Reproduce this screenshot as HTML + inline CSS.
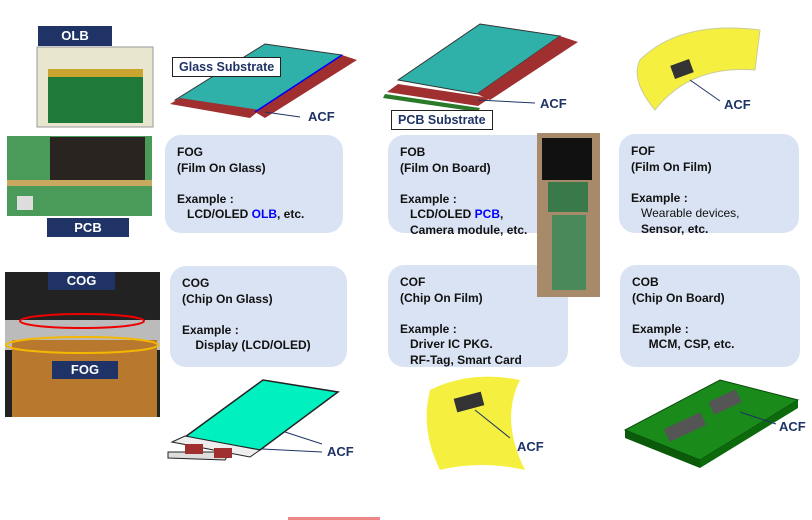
<!DOCTYPE html>
<html><head><meta charset="utf-8"><style>
body{margin:0;width:812px;height:520px;background:#fff;position:relative;overflow:hidden;font-family:"Liberation Sans",sans-serif}
.box{position:absolute;background:#dae3f3;border-radius:16px;font-weight:bold;font-size:12px;line-height:15.5px;color:#111;padding:10px 12px;box-sizing:border-box;white-space:nowrap}
.lab{position:absolute;background:#1f3366;color:#fff;font-weight:bold;font-size:13px;text-align:center}
.tag{position:absolute;background:#fff;border:1.5px solid #222;font-weight:bold;font-size:12.5px;color:#1f3366;padding:2px 6px}
.acf{position:absolute;font-weight:bold;font-size:13px;color:#1f3366}
svg{position:absolute;left:0;top:0}
</style></head><body>
<svg width="812" height="520">
<rect x="37" y="47" width="116" height="80" fill="#e8e6cf" stroke="#999"/>
<rect x="48" y="69" width="95" height="54" fill="#1f7a3a"/>
<rect x="48" y="69" width="95" height="8" fill="#c9a530"/>
<rect x="7" y="136" width="145" height="80" fill="#4a9a5a"/>
<rect x="50" y="137" width="95" height="46" fill="#2a2420"/>
<rect x="7" y="180" width="145" height="6" fill="#c9a860"/>
<rect x="17" y="196" width="16" height="14" fill="#ddd"/>
<rect x="5" y="272" width="155" height="145" fill="#222"/>
<rect x="5" y="320" width="155" height="30" fill="#bbb"/>
<rect x="12" y="340" width="145" height="77" fill="#b8782e"/>
<ellipse cx="82" cy="321" rx="62" ry="7" fill="none" stroke="#e00" stroke-width="2"/>
<ellipse cx="82" cy="345" rx="76" ry="8" fill="none" stroke="#f5b800" stroke-width="2"/>
<polygon points="175,100 265,44 342,55 255,112" fill="#2fb0a8" stroke="#333"/>
<polygon points="170,104 180,98 260,110 250,118" fill="#a03030"/>
<polygon points="255,112 342,55 357,60 265,118" fill="#a03030"/>
<line x1="255" y1="112" x2="342" y2="55" stroke="#00f" stroke-width="1.5"/>
<line x1="265" y1="112" x2="300" y2="117" stroke="#1f3366"/>
<polygon points="398,80 480,24 560,36 477,94" fill="#2fb0a8" stroke="#333"/>
<polygon points="387,92 398,84 490,98 478,106" fill="#a03030"/>
<polygon points="477,94 560,36 578,42 490,100" fill="#a03030"/>
<polygon points="385,94 480,108 478,112 383,98" fill="#2a7a2a"/>
<line x1="478" y1="100" x2="535" y2="103" stroke="#1f3366"/>
<path d="M640,60 Q680,20 760,30 L755,70 Q690,65 655,110 Q630,80 640,60Z" fill="#f5f040" stroke="#cc9"/>
<rect x="672" y="62" width="20" height="14" fill="#333" transform="rotate(-20 682 69)"/>
<line x1="690" y1="80" x2="720" y2="101" stroke="#1f3366"/>
<polygon points="185,437 263,380 338,392 260,450" fill="#00f0c0" stroke="#222" stroke-width="1.5"/>
<polygon points="172,442 185,436 260,450 250,457" fill="#eee" stroke="#222"/>
<polygon points="168,452 230,452 225,460 168,458" fill="#ddd" stroke="#222"/>
<rect x="185" y="444" width="18" height="10" fill="#a03030"/>
<rect x="214" y="448" width="18" height="10" fill="#a03030"/>
<line x1="285" y1="432" x2="322" y2="444" stroke="#1f3366"/>
<line x1="262" y1="449" x2="322" y2="452" stroke="#1f3366"/>
<path d="M430,390 Q470,370 520,380 Q500,420 525,470 Q480,460 440,470 Q420,430 430,390Z" fill="#f5f040"/>
<rect x="455" y="395" width="28" height="14" fill="#333" transform="rotate(-15 469 402)"/>
<line x1="475" y1="410" x2="510" y2="438" stroke="#1f3366"/>
<polygon points="625,430 720,380 798,400 700,460" fill="#1a8a1a" stroke="#0a4a0a"/>
<polygon points="625,430 700,460 700,468 625,438" fill="#0a5a0a"/>
<polygon points="700,460 798,400 798,408 700,468" fill="#0c6a0c"/>
<rect x="710" y="395" width="30" height="14" fill="#555" transform="rotate(-25 725 402)"/>
<rect x="665" y="420" width="40" height="14" fill="#555" transform="rotate(-25 685 427)"/>
<line x1="740" y1="412" x2="776" y2="424" stroke="#1f3366"/>
<rect x="288" y="517" width="92" height="3" fill="#e88"/>
</svg>
<div class="lab" style="left:38px;top:26px;width:74px;height:20px;line-height:20px">OLB</div>
<div class="lab" style="left:47px;top:218px;width:82px;height:19px;line-height:19px">PCB</div>
<div class="lab" style="left:48px;top:272px;width:67px;height:18px;line-height:18px">COG</div>
<div class="lab" style="left:52px;top:361px;width:66px;height:18px;line-height:18px">FOG</div>
<div class="tag" style="left:172px;top:57px">Glass Substrate</div>
<div class="tag" style="left:391px;top:110px">PCB Substrate</div>
<div class="acf" style="left:308px;top:109px">ACF</div>
<div class="acf" style="left:540px;top:96px">ACF</div>
<div class="acf" style="left:724px;top:97px">ACF</div>
<div class="acf" style="left:327px;top:444px">ACF</div>
<div class="acf" style="left:517px;top:439px">ACF</div>
<div class="acf" style="left:779px;top:419px">ACF</div>
<div class="box" style="left:165px;top:135px;width:178px;height:98px">FOG<br>(Film On Glass)<br><br>Example :<br>&nbsp;&nbsp;&nbsp;LCD/OLED <span style="color:#00f">OLB</span>, etc.</div>
<div class="box" style="left:388px;top:135px;width:150px;height:98px;border-radius:16px 0 0 16px">FOB<br>(Film On Board)<br><br>Example :<br>&nbsp;&nbsp;&nbsp;LCD/OLED <span style="color:#00f">PCB</span>,<br>&nbsp;&nbsp;&nbsp;Camera module, etc.</div>
<div class="box" style="left:619px;top:134px;width:180px;height:99px">FOF<br>(Film On Film)<br><br>Example :<br><span style="font-weight:normal">&nbsp;&nbsp;&nbsp;Wearable devices,</span><br>&nbsp;&nbsp;&nbsp;Sensor, etc.</div>
<div class="box" style="left:170px;top:266px;width:177px;height:101px">COG<br>(Chip On Glass)<br><br>Example :<br>&nbsp;&nbsp;&nbsp;&nbsp;Display (LCD/OLED)</div>
<div class="box" style="left:388px;top:265px;width:180px;height:102px">COF<br>(Chip On Film)<br><br>Example :<br>&nbsp;&nbsp;&nbsp;Driver IC PKG.<br>&nbsp;&nbsp;&nbsp;RF-Tag, Smart Card</div>
<div class="box" style="left:620px;top:265px;width:180px;height:102px">COB<br>(Chip On Board)<br><br>Example :<br>&nbsp;&nbsp;&nbsp;&nbsp;&nbsp;MCM, CSP, etc.</div>
<svg width="812" height="520" style="pointer-events:none">
<rect x="537" y="133" width="63" height="164" fill="#a68a6a"/>
<rect x="542" y="138" width="50" height="42" fill="#111"/>
<rect x="548" y="182" width="40" height="30" fill="#3a7a4a"/>
<rect x="552" y="215" width="34" height="75" fill="#4a8a5a"/>
</svg>
</body></html>
